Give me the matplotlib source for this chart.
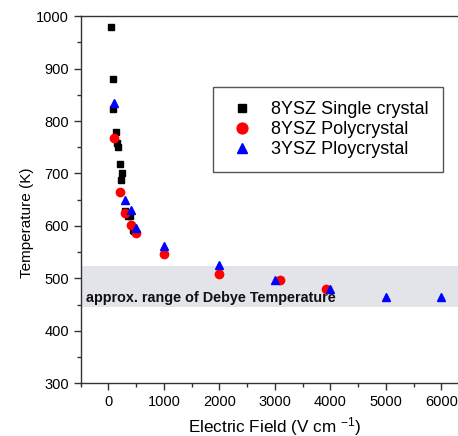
import matplotlib
matplotlib.use("Agg")
import matplotlib.pyplot as plt
from matplotlib.ticker import MultipleLocator

plt.rcParams['font.family'] = ['Liberation Sans', 'DejaVu Sans']
plt.rcParams['mathtext.default'] = 'regular'

# electric field (V/cm) vs furnace temperature at flash onset
single_field = [50, 80, 90, 140, 150, 180, 210, 235, 250, 300, 360, 385, 440, 470]
single_temp = [980, 880, 823, 779, 758, 750, 718, 688, 701, 629, 619, 618, 593, 590]

poly8_field = [100, 205, 305, 400, 500, 1000, 2000, 3100, 3930]
poly8_temp = [767, 664, 624, 601, 587, 546, 508, 496, 480]

poly3_field = [105, 305, 400, 490, 1000, 2000, 3000, 4000, 5000, 6000]
poly3_temp = [835, 650, 630, 596, 561, 525, 496, 480, 465, 465]

debye_range = (446, 524)

fig = plt.figure(figsize=(4.58, 4.36), dpi=100)
ax = fig.add_axes([0.176, 0.121, 0.848, 0.842])

ax.axhspan(debye_range[0], debye_range[1], color='#e3e4ea', zorder=0, lw=0)
ax.text(-400, 463, "approx. range of Debye Temperature", fontsize=10.4,
        fontweight='bold', ha='left', va='center', color='#111111', zorder=1)

ax.plot(single_field, single_temp, 's', color='black', ms=4.3, ls='none',
        label="8YSZ Single crystal", zorder=3)
ax.plot(poly8_field, poly8_temp, 'o', color='#ff0000', ms=6, ls='none',
        label="8YSZ Polycrystal", zorder=3)
ax.plot(poly3_field, poly3_temp, '^', color='#0000ff', ms=6, ls='none',
        label="3YSZ Ploycrystal", zorder=4)

ax.set_xlim(-500, 6500)
ax.set_ylim(300, 1000)
ax.xaxis.set_major_locator(MultipleLocator(1000))
ax.xaxis.set_minor_locator(MultipleLocator(500))
ax.yaxis.set_major_locator(MultipleLocator(100))
ax.yaxis.set_minor_locator(MultipleLocator(50))
ax.tick_params(which='major', direction='out', length=5, width=1,
               labelsize=10.5, color='#333333')
ax.tick_params(which='minor', direction='out', length=3, width=1,
               color='#333333')
for s in ax.spines.values():
    s.set_color('#333333')
    s.set_linewidth(1)

ax.set_xlabel("Electric Field (V cm $^{-1}$)", fontsize=12.3)
ax.set_ylabel("Temperature (K)", fontsize=11)
ax.yaxis.set_label_coords(-0.12, 0.436)

leg = ax.legend(loc='upper left', bbox_to_anchor=(0.341, 0.807),
                borderaxespad=0, fancybox=False, framealpha=1,
                edgecolor='#555555', fontsize=13, handletextpad=0.8,
                borderpad=0.8, labelspacing=0.15, handlelength=1.6,
                markerscale=1.3)
leg.get_frame().set_linewidth(1)

fig.savefig("out.png", dpi=100)
